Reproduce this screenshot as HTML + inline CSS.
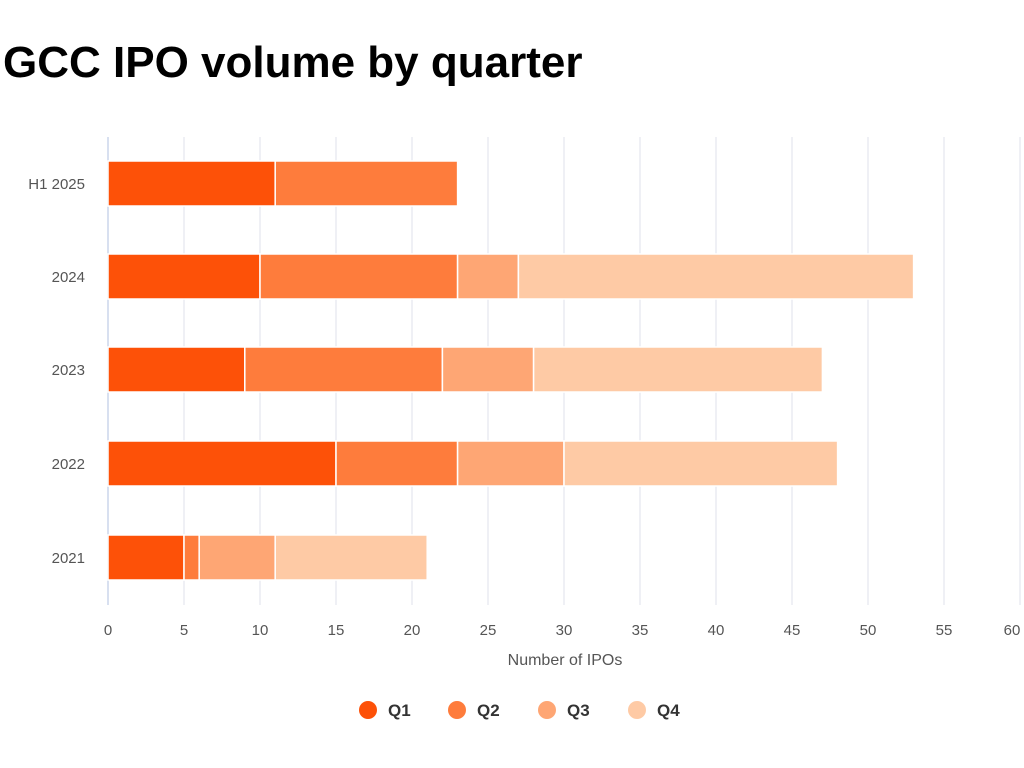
<!DOCTYPE html>
<html><head><meta charset="utf-8"><style>
html,body{margin:0;padding:0;background:#fff;width:1024px;height:768px;overflow:hidden}
</style></head><body>
<svg width="1024" height="768" xmlns="http://www.w3.org/2000/svg" font-family="Liberation Sans, sans-serif">
<text x="3" y="77" font-size="44" font-weight="bold" fill="#000">GCC IPO volume by quarter</text>
<g stroke="#e4e7ee" stroke-width="1.2">
<line x1="184" y1="137" x2="184" y2="605"/><line x1="260" y1="137" x2="260" y2="605"/>
<line x1="336" y1="137" x2="336" y2="605"/><line x1="412" y1="137" x2="412" y2="605"/>
<line x1="488" y1="137" x2="488" y2="605"/><line x1="564" y1="137" x2="564" y2="605"/>
<line x1="640" y1="137" x2="640" y2="605"/><line x1="716" y1="137" x2="716" y2="605"/>
<line x1="792" y1="137" x2="792" y2="605"/><line x1="868" y1="137" x2="868" y2="605"/>
<line x1="944" y1="137" x2="944" y2="605"/><line x1="1020" y1="137" x2="1020" y2="605"/>
</g>
<line x1="108" y1="137" x2="108" y2="605" stroke="#ccd6eb" stroke-width="1.5"/>
<g stroke="#fff" stroke-width="1.5">
<rect x="108" y="161" width="167.2" height="45" fill="#fd5108"/>
<rect x="275.2" y="161" width="182.4" height="45" fill="#fe7c3c"/>
<rect x="108" y="254" width="152" height="45" fill="#fd5108"/>
<rect x="260" y="254" width="197.6" height="45" fill="#fe7c3c"/>
<rect x="457.6" y="254" width="60.8" height="45" fill="#fea674"/>
<rect x="518.4" y="254" width="395.2" height="45" fill="#fecaa5"/>
<rect x="108" y="347" width="136.8" height="45" fill="#fd5108"/>
<rect x="244.8" y="347" width="197.6" height="45" fill="#fe7c3c"/>
<rect x="442.4" y="347" width="91.2" height="45" fill="#fea674"/>
<rect x="533.6" y="347" width="288.8" height="45" fill="#fecaa5"/>
<rect x="108" y="441" width="228" height="45" fill="#fd5108"/>
<rect x="336" y="441" width="121.6" height="45" fill="#fe7c3c"/>
<rect x="457.6" y="441" width="106.4" height="45" fill="#fea674"/>
<rect x="564" y="441" width="273.6" height="45" fill="#fecaa5"/>
<rect x="108" y="535" width="76" height="45" fill="#fd5108"/>
<rect x="184" y="535" width="15.2" height="45" fill="#fe7c3c"/>
<rect x="199.2" y="535" width="76" height="45" fill="#fea674"/>
<rect x="275.2" y="535" width="152" height="45" fill="#fecaa5"/>
</g>
<g font-size="15" fill="#555" text-anchor="end">
<text x="85" y="189">H1 2025</text><text x="85" y="282">2024</text>
<text x="85" y="375">2023</text><text x="85" y="469">2022</text><text x="85" y="563">2021</text>
</g>
<g font-size="15" fill="#555" text-anchor="middle">
<text x="108" y="635">0</text><text x="184" y="635">5</text><text x="260" y="635">10</text>
<text x="336" y="635">15</text><text x="412" y="635">20</text><text x="488" y="635">25</text>
<text x="564" y="635">30</text><text x="640" y="635">35</text><text x="716" y="635">40</text>
<text x="792" y="635">45</text><text x="868" y="635">50</text><text x="944" y="635">55</text>
<text x="1012" y="635">60</text>
<text x="565" y="665" font-size="16">Number of IPOs</text>
</g>
<g font-size="17" font-weight="bold" fill="#333">
<circle cx="368" cy="710" r="9" fill="#fd5108"/><text x="388" y="716">Q1</text>
<circle cx="457" cy="710" r="9" fill="#fe7c3c"/><text x="477" y="716">Q2</text>
<circle cx="547" cy="710" r="9" fill="#fea674"/><text x="567" y="716">Q3</text>
<circle cx="637" cy="710" r="9" fill="#fecaa5"/><text x="657" y="716">Q4</text>
</g>
</svg>
</body></html>
